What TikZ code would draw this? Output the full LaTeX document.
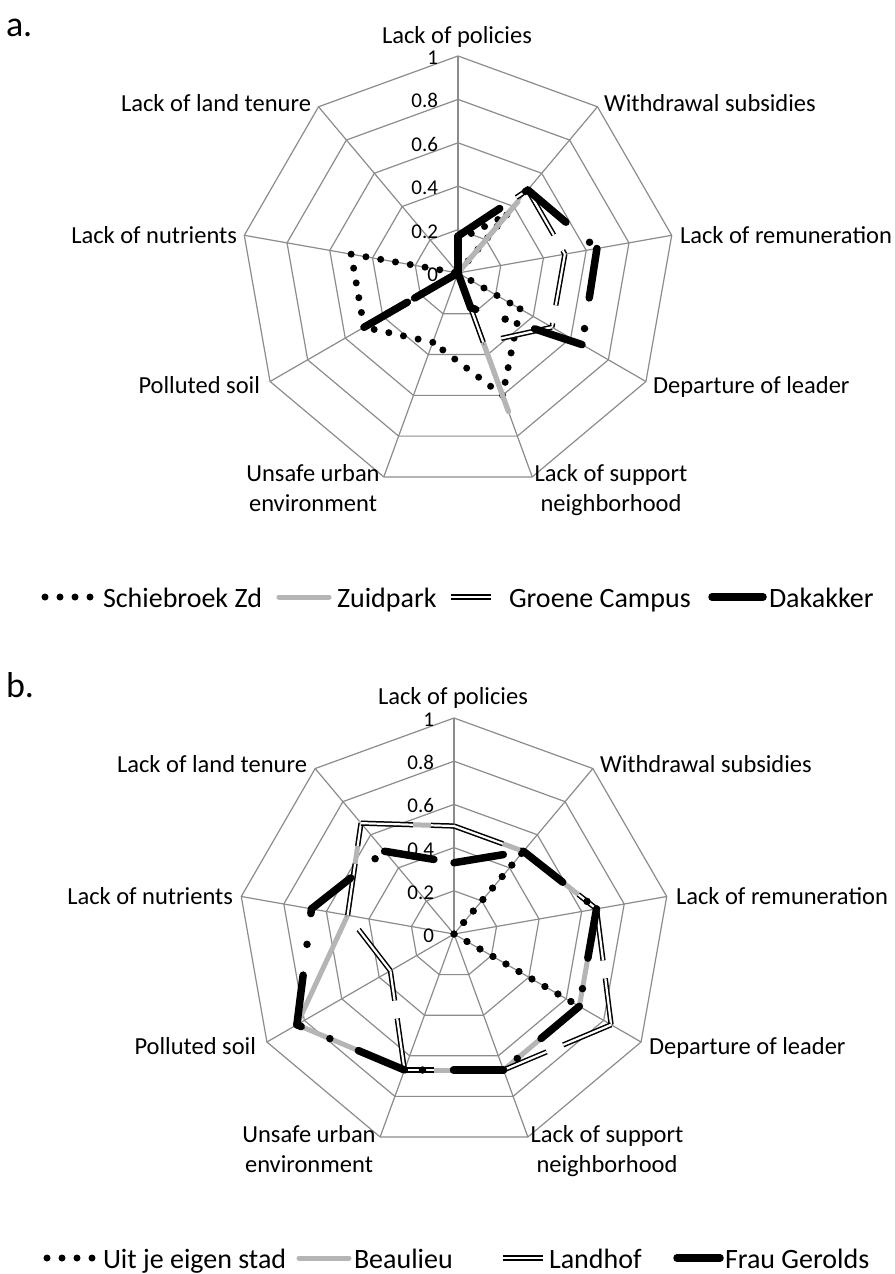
\documentclass[tikz,border=0pt]{standalone}
\usepackage{fontspec}
\setmainfont{Carlito}
\usetikzlibrary{calc}
\definecolor{gridc}{HTML}{8C8C8C}
\definecolor{lgray}{HTML}{B5B5B5}
\tikzset{
  gridline/.style={draw=gridc, line width=1.2pt},
  axlab/.style={font=\fontsize{24.5}{29}\selectfont, inner sep=0pt, outer sep=0pt},
  leglab/.style={font=\fontsize{28}{33}\selectfont, inner sep=0pt, outer sep=0pt, anchor=base west},
  numlab/.style={font=\fontsize{21}{25}\selectfont, inner sep=0pt, outer sep=0pt, anchor=base east},
  panlab/.style={font=\fontsize{36}{40}\selectfont, inner sep=0pt, outer sep=0pt, anchor=base west},
  dotser/.style={draw=black, line width=7pt, line cap=round, dash pattern=on 0pt off 15pt},
  grayser/.style={draw=lgray, line width=5pt, line cap=round},
  dblser/.style={draw=black, double=white, double distance=2.2pt, line width=1.5pt, dash pattern=on 52pt off 18pt},
  thickser/.style={draw=black, line width=7.5pt, line cap=round, dash pattern=on 50pt off 31pt on 0pt off 31pt},
  legdot/.style={draw=black, line width=7pt, line cap=round, dash pattern=on 0pt off 15pt},
  leggray/.style={draw=lgray, line width=5pt, line cap=round},
  legdbl/.style={draw=black, double=white, double distance=2.2pt, line width=1.5pt},
  legthick/.style={draw=black, line width=7.5pt, line cap=round},
}
% grid of a radar chart: #1 centre coordinate, #2 radius
\newcommand\rgrid[2]{%
  \foreach \rr in {0.2,0.4,0.6,0.8,1}{%
    \draw[gridline] ($(#1)+(90:{\rr*#2})$)
      \foreach \kk in {1,...,8}{ -- ($(#1)+({90-40*\kk}:{\rr*#2})$) } -- cycle;
  }%
  \foreach \kk in {0,...,8}{\draw[gridline] (#1) -- ($(#1)+({90-40*\kk}:#2)$);}%
}
% one series: #1 centre, #2 radius, #3 data list, #4 style
\newcommand\rseries[4]{%
  \foreach \kk in {0,...,8}{%
    \pgfmathtruncatemacro\rsnk{mod(\kk+1,9)}%
    \pgfmathsetmacro\rsva{{#3}[\kk]}%
    \pgfmathsetmacro\rsvb{{#3}[\rsnk]}%
    \pgfmathtruncatemacro\rsok{(\rsva+\rsvb)>0.001 ? 1 : 0}%
    \ifnum\rsok=1\relax
      \draw[#4] ($(#1)+({90-40*\kk}:{\rsva*#2})$) -- ($(#1)+({90-40*\rsnk}:{\rsvb*#2})$);%
    \fi
  }%
}
\begin{document}
\begin{tikzpicture}[x=1pt,y=1pt]
\useasboundingbox (0,0) rectangle (894,-1274);
\fill[white] (0,0) rectangle (894,-1274);

% ================= chart a =================
\node[panlab] (pa) at (6,-36) {a.};
\coordinate (ca) at (458,-273);
\rgrid{ca}{217}
\foreach \v/\t in {0/0,0.2/0.2,0.4/0.4,0.6/0.6,0.8/0.8,1/1}{
  \node[numlab] (na\t) at ($(ca)+(-20,{217*\v-8.5})$) {\t};
}
\rseries{ca}{217}{0.15,0.35,0,0.33,0.6,0.34,0.5,0.5,0}{dotser}
\rseries{ca}{217}{0,0.43,0,0,0.68,0,0,0,0}{grayser}
\rseries{ca}{217}{0.17,0.5,0.5,0.5,0.34,0,0,0,0}{dblser}
\rseries{ca}{217}{0.17,0.5,0.65,0.66,0.17,0,0.5,0,0}{thickser}

\node[axlab, anchor=base] (a0) at (457,-43) {Lack of policies};
\node[axlab, anchor=base west] (a1) at (604,-111) {Withdrawal subsidies};
\node[axlab, anchor=base west] (a2) at (680,-243) {Lack of remuneration};
\node[axlab, anchor=base west] (a3) at (653,-393) {Departure of leader};
\node[axlab, anchor=base] (a4) at (611,-481) {Lack of support};
\node[axlab, anchor=base] (a4b) at (611,-511) {neighborhood};
\node[axlab, anchor=base] (a5) at (313,-481) {Unsafe urban};
\node[axlab, anchor=base] (a5b) at (313,-511) {environment};
\node[axlab, anchor=base east] (a6) at (260,-393) {Polluted soil};
\node[axlab, anchor=base east] (a7) at (237,-243) {Lack of nutrients};
\node[axlab, anchor=base east] (a8) at (311,-111) {Lack of land tenure};

% legend a
\draw[legdot] (45,-597) -- (92,-597);
\node[leglab] (la1) at (103,-607) {Schiebroek Zd};
\draw[leggray] (279,-597) -- (329,-597);
\node[leglab] (la2) at (337,-607) {Zuidpark};
\draw[legdbl] (451,-597) -- (491,-597);
\node[leglab] (la3) at (509,-607) {Groene Campus};
\draw[legthick] (712,-597) -- (763,-597);
\node[leglab] (la4) at (769,-607) {Dakakker};

% ================= chart b =================
\node[panlab] (pb) at (6,-697) {b.};
\coordinate (cb) at (454,-934);
\rgrid{cb}{216}
\foreach \v/\t in {0/0,0.2/0.2,0.4/0.4,0.6/0.6,0.8/0.8,1/1}{
  \node[numlab] (nb\t) at ($(cb)+(-20,{216*\v-8.5})$) {\t};
}
\rseries{cb}{216}{0,0.486,0,0.625,0,0,0,0,0}{dotser}
\rseries{cb}{216}{0.5,0.5,0.67,0.67,0.67,0.67,0.84,0.5,0.67}{grayser}
\rseries{cb}{216}{0.5,0.5,0.67,0.84,0.67,0.67,0.34,0.5,0.67}{dblser}
\rseries{cb}{216}{0.33,0.5,0.67,0.67,0.67,0.67,0.84,0.67,0.5}{thickser}

\node[axlab, anchor=base] (b0) at (453,-704) {Lack of policies};
\node[axlab, anchor=base west] (b1) at (600,-772) {Withdrawal subsidies};
\node[axlab, anchor=base west] (b2) at (676,-904) {Lack of remuneration};
\node[axlab, anchor=base west] (b3) at (649,-1054) {Departure of leader};
\node[axlab, anchor=base] (b4) at (607,-1142) {Lack of support};
\node[axlab, anchor=base] (b4b) at (607,-1172) {neighborhood};
\node[axlab, anchor=base] (b5) at (309,-1142) {Unsafe urban};
\node[axlab, anchor=base] (b5b) at (309,-1172) {environment};
\node[axlab, anchor=base east] (b6) at (256,-1054) {Polluted soil};
\node[axlab, anchor=base east] (b7) at (233,-904) {Lack of nutrients};
\node[axlab, anchor=base east] (b8) at (307,-772) {Lack of land tenure};

% legend b
\draw[legdot] (47,-1258) -- (94,-1258);
\node[leglab] (lb1) at (103,-1268) {Uit je eigen stad};
\draw[leggray] (299,-1258) -- (349,-1258);
\node[leglab] (lb2) at (354,-1268) {Beaulieu};
\draw[legdbl] (503,-1258) -- (543,-1258);
\node[leglab] (lb3) at (549,-1268) {Landhof};
\draw[legthick] (677,-1258) -- (720,-1258);
\node[leglab] (lb4) at (725,-1268) {Frau Gerolds};
\end{tikzpicture}
\end{document}
